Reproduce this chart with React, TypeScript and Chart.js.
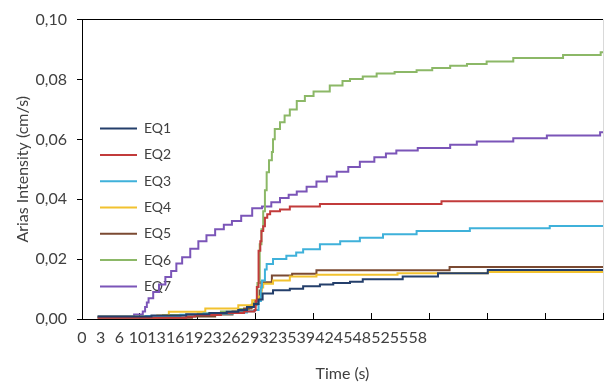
import React, { useEffect, useRef } from 'react';
import { Chart, registerables } from 'chart.js';

Chart.register(...registerables);

const FONT = 'Lato, "Open Sans", sans-serif';
const TEXT = '#404040';

// Category-style tick labels shown under the time axis
const xLabels = ['0', '3', '6', '10', '13', '16', '19', '23', '26', '29', '32', '35', '39', '42', '45', '48', '52', '55', '58'];
const X_MAX = 90;
const X_MARK_STEP = 10;
const Y_MAX = 0.1;
const Y_STEP = 0.02;

const seriesNames = ['EQ1', 'EQ2', 'EQ3', 'EQ4', 'EQ5', 'EQ6', 'EQ7'];
const seriesColors = ['#243F6B', '#C23B3B', '#3FB1DA', '#F2C22F', '#7B4A32', '#8CB867', '#7B55B8'];

// [time (s), Arias intensity (cm/s)]
const eq1: [number, number][] = [
  [2.7, 0.0008], [12, 0.0012], [18, 0.0016], [22, 0.002], [25, 0.0024], [27, 0.003], [28.5, 0.004],
  [29.7, 0.005], [30.5, 0.0065], [31.2, 0.0085], [33, 0.0096], [35.9, 0.0101], [38.2, 0.0109],
  [41.1, 0.0115], [43.4, 0.012], [46.3, 0.0124], [48.5, 0.0133], [55.4, 0.0142], [61.5, 0.0153],
  [70.1, 0.0164], [90, 0.0164],
];
const eq2: [number, number][] = [
  [2.7, 0.0004], [18, 0.0008], [19.5, 0.0013], [24, 0.002], [28, 0.0025], [29.8, 0.003], [30, 0.006],
  [30.2, 0.0107], [30.5, 0.0228], [30.8, 0.026], [31, 0.0294], [31.3, 0.031], [31.6, 0.0338], [32, 0.035],
  [32.5, 0.036], [34.2, 0.0366], [35.9, 0.0376], [41.1, 0.0384], [62.1, 0.0393], [90, 0.0393],
];
const eq3: [number, number][] = [
  [2.7, 0.0006], [11, 0.001], [17, 0.0014], [21, 0.0018], [26, 0.0022], [28.5, 0.0026], [29.8, 0.003],
  [30.5, 0.006], [30.9, 0.0105], [31.1, 0.0129], [31.6, 0.0165], [31.9, 0.0184], [33, 0.02], [35.3, 0.0211],
  [37, 0.0222], [38.2, 0.0233], [41.1, 0.025], [44.6, 0.026], [48, 0.0271], [52, 0.0283], [57.8, 0.0294],
  [67, 0.0303], [80.8, 0.0311], [90, 0.0314],
];
const eq4: [number, number][] = [
  [2.7, 0.0006], [13, 0.0012], [15, 0.0024], [21.3, 0.0035], [27, 0.0046], [29.4, 0.0063], [30.5, 0.0075],
  [31, 0.0105], [31.3, 0.0118], [33, 0.0129], [35.9, 0.0142], [40.5, 0.0148], [54.5, 0.0153],
  [70.1, 0.0157], [90, 0.0157],
];
const eq5: [number, number][] = [
  [2.7, 0.0004], [19, 0.0008], [23, 0.0015], [26, 0.0025], [28, 0.0035], [29.3, 0.0048], [30.2, 0.0065],
  [30.7, 0.0095], [31, 0.0123], [32.8, 0.0145], [36.3, 0.0151], [40.5, 0.0163], [63.5, 0.0174], [90, 0.0174],
];
const eq6: [number, number][] = [
  [2.7, 0.0008], [14, 0.0013], [20, 0.0018], [24, 0.0025], [27, 0.0033], [28.8, 0.0042], [29.6, 0.0055],
  [29.9, 0.0063], [30.3, 0.012], [30.7, 0.025], [31, 0.03], [31.3, 0.036], [31.6, 0.043], [31.9, 0.049],
  [32.3, 0.053], [32.8, 0.0558], [33, 0.06], [33.3, 0.0635], [34.2, 0.0657], [35, 0.068], [35.9, 0.07],
  [37.1, 0.0728], [38.5, 0.0745], [40, 0.076], [42.8, 0.078], [45, 0.0795], [46.3, 0.0802], [48.5, 0.081],
  [50.9, 0.082], [54, 0.0825], [57.8, 0.0831], [60.5, 0.0838], [63.6, 0.0846], [66.5, 0.0852], [69.9, 0.086],
  [74.5, 0.0872], [83.1, 0.0882], [89.6, 0.0891], [90, 0.0891],
];
const eq7: [number, number][] = [
  [2.7, 0.0008], [9, 0.0015], [10.5, 0.0025], [10.9, 0.004], [11.2, 0.0055], [11.5, 0.0069], [12.3, 0.009],
  [13.3, 0.0115], [14.4, 0.014], [15.4, 0.016], [16.3, 0.0185], [17.3, 0.0206], [18.7, 0.0235], [20.1, 0.026],
  [21.5, 0.028], [23, 0.03], [24.5, 0.0315], [25.9, 0.0327], [27.5, 0.0345], [29.4, 0.037], [31.1, 0.0376],
  [32.7, 0.039], [34.2, 0.0404], [35.7, 0.0415], [37.1, 0.0426], [38.8, 0.0442], [40.5, 0.0459], [42.3, 0.0476],
  [44, 0.0492], [46, 0.0508], [48, 0.0525], [50.5, 0.054], [52.5, 0.0553], [54.3, 0.0563], [58, 0.0571],
  [63.6, 0.0582], [68.2, 0.0593], [74.5, 0.0604], [80.3, 0.0613], [89.5, 0.0624], [90, 0.0624],
];

const seriesData = [eq1, eq2, eq3, eq4, eq5, eq6, eq7];

// Places the legend box inside the plot area, where the reference has it
const legendPlace = {
  id: 'legendPlace',
  afterLayout(chart: any) {
    const lg = chart.legend;
    if (lg) {
      lg.left = chart.chartArea.left + 5.7;
      lg.top = chart.chartArea.top + 89.7;
      lg.bottom = chart.chartArea.bottom;
    }
  },
};

export default function App() {
  const ref = useRef<HTMLCanvasElement>(null);

  useEffect(() => {
    const labelStep = Number(xLabels[xLabels.length - 1]) / (xLabels.length - 1);
    const chart = new Chart(ref.current as HTMLCanvasElement, {
      type: 'line',
      data: {
        datasets: seriesData.map((d, i) => ({
          label: seriesNames[i],
          data: d.map(([x, y]) => ({ x, y })),
          borderColor: seriesColors[i],
          backgroundColor: seriesColors[i],
          borderWidth: 2,
          pointRadius: 0,
          stepped: true,
          fill: false,
        })),
      },
      options: {
        animation: false,
        responsive: true,
        maintainAspectRatio: false,
        layout: { padding: { top: 16, right: 1, left: 0, bottom: 0 } },
        plugins: {
          tooltip: { enabled: false },
          legend: {
            position: 'chartArea',
            align: 'start',
            labels: {
              usePointStyle: true,
              pointStyle: 'line',
              pointStyleWidth: 37,
              padding: 12.3,
              color: TEXT,
              font: { family: FONT, size: 14 },
            },
          },
        },
        scales: {
          x: {
            type: 'linear',
            min: 0,
            max: X_MAX,
            afterBuildTicks: (scale: any) => {
              const ticks: any[] = xLabels.map((lab, i) => ({ value: i * labelStep, lab, mark: false }));
              for (let v = X_MARK_STEP; v <= X_MAX; v += X_MARK_STEP) {
                ticks.push({ value: v, lab: '', mark: true, edge: v === X_MAX });
              }
              ticks.sort((a, b) => a.value - b.value);
              scale.ticks = ticks;
            },
            afterFit: (scale: any) => {
              scale.height = 66;
              scale.paddingLeft = 0;
              scale.paddingRight = 0;
            },
            ticks: {
              autoSkip: false,
              maxRotation: 0,
              minRotation: 0,
              padding: 15.4,
              color: TEXT,
              font: { family: FONT, size: 16 },
              callback: (_v: any, i: number, ts: any[]) => (ts[i] && ts[i].lab) || '',
            },
            grid: {
              drawOnChartArea: true,
              tickLength: -6,
              color: (c: any) => (c.tick && c.tick.edge ? '#D9D9D9' : 'rgba(0,0,0,0)'),
              tickColor: (c: any) => (c.tick && c.tick.mark ? '#000' : 'rgba(0,0,0,0)'),
            },
            border: { display: true, color: '#000' },
            title: {
              display: true,
              text: 'Time (s)',
              color: TEXT,
              font: { family: FONT, size: 16 },
              padding: { top: 0, bottom: 1.4 },
            },
          },
          y: {
            min: 0,
            max: Y_MAX,
            afterFit: (scale: any) => {
              scale.width = 82;
            },
            ticks: {
              stepSize: Y_STEP,
              padding: 10,
              color: TEXT,
              font: { family: FONT, size: 16 },
              callback: (v: any) => Number(v).toFixed(2).replace('.', ','),
            },
            grid: {
              tickLength: 5,
              color: (c: any) => (c.tick && c.tick.value > Y_MAX - 1e-6 ? '#000' : 'rgba(0,0,0,0)'),
              tickColor: '#000',
            },
            border: { display: true, color: '#000' },
            title: {
              display: true,
              text: 'Arias Intensity (cm/s)',
              color: TEXT,
              font: { family: FONT, size: 16 },
              padding: { top: 13.4, bottom: 0 },
            },
          },
        },
      } as any,
      plugins: [legendPlace],
    });
    return () => chart.destroy();
  }, []);

  return (
    <div style={{ position: 'fixed', left: 0, top: 0, width: 604, height: 385, background: '#fff' }}>
      <canvas ref={ref} />
    </div>
  );
}
